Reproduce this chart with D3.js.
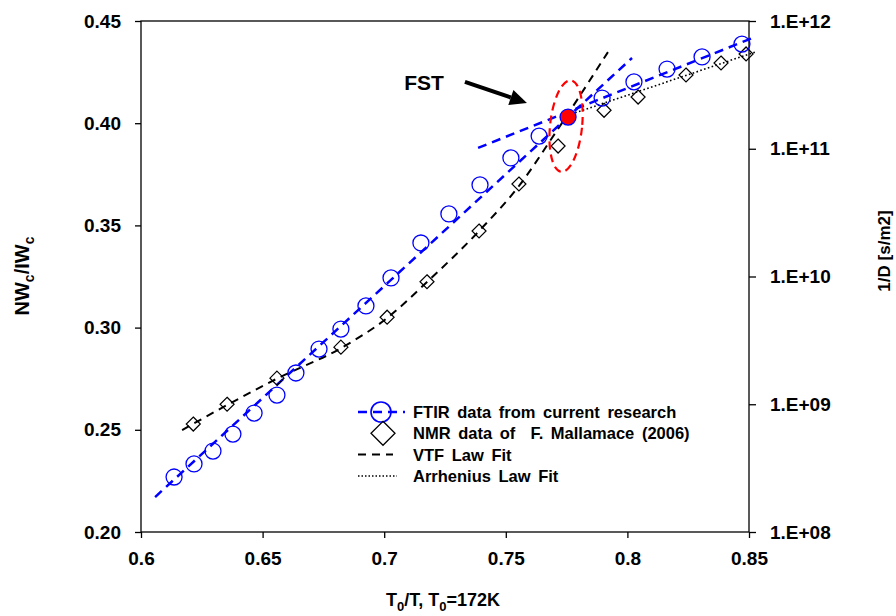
<!DOCTYPE html>
<html>
<head>
<meta charset="utf-8">
<script src="https://cdn.jsdelivr.net/npm/d3@7"></script>
<style>
  body { margin: 0; background: #fff; }
  text { font-family: "Liberation Sans", Arial, sans-serif; font-weight: bold; fill: #000; }
</style>
</head>
<body>
<div id="plot"></div>
<script>
// FTIR data (left axis, NWc/IWc)
const ftirX = [0.6136, 0.6218, 0.6296, 0.6378, 0.6465, 0.6559, 0.6637, 0.6732, 0.6822, 0.6925, 0.7028,
  0.7151, 0.7266, 0.7394, 0.7521, 0.7637, 0.7756, 0.7896, 0.8027, 0.8163, 0.8307, 0.8471];
const ftirY = [0.2269, 0.2333, 0.2396, 0.2479, 0.2582, 0.2670, 0.2778, 0.2895, 0.2993, 0.3106, 0.3243,
  0.3414, 0.3556, 0.3698, 0.3830, 0.3937, 0.4030, 0.4123, 0.4202, 0.4265, 0.4324, 0.4387];
const fstIndex = 16; // point drawn filled red

// NMR data of F. Mallamace (right axis, 1/D)
const nmrX = [0.6215, 0.6354, 0.6559, 0.6822, 0.7012, 0.7176, 0.7390, 0.7554, 0.7715, 0.7904, 0.8044,
  0.8241, 0.8385, 0.8488];
const nmrInvD = [7.0e8, 1.0e9, 1.6e9, 2.8e9, 4.8e9, 9.1e9, 2.27e10, 5.3e10, 1.05e11, 2.0e11, 2.54e11,
  3.78e11, 4.69e11, 5.52e11];

// fit lines
const ftirFitLowX = [0.6058, 0.8019];
const ftirFitLowY = [0.2171, 0.4319];
const ftirFitHighX = [0.7386, 0.8525];
const ftirFitHighY = [0.3879, 0.4422];
const vtfX = [0.6169, 0.6354, 0.6563, 0.6822, 0.7012, 0.7176, 0.7390, 0.7554, 0.7706, 0.7920];
const vtfInvD = [6.28e8, 9.86e8, 1.60e9, 2.75e9, 4.73e9, 9.06e9, 2.27e10, 5.11e10, 1.35e11, 5.71e11];
const arrX = [0.7723, 0.8525];
const arrInvD = [1.742e11, 5.71e11];

// ticks
const xTicks = [0.6, 0.65, 0.7, 0.75, 0.8, 0.85];
const yLeftTicks = [0.2, 0.25, 0.3, 0.35, 0.4, 0.45];
const yRightTicks = [1e8, 1e9, 1e10, 1e11, 1e12];

const legendLabels = ["FTIR data from current research", "NMR data of  F. Mallamace (2006)", "VTF Law Fit", "Arrhenius Law Fit"];

const width = 896, height = 616;
const plotLeft = 141, plotRight = 749, plotTop = 21, plotBottom = 532;

const svg = d3.select("#plot").append("svg")
  .attr("width", width)
  .attr("height", height);

const x = d3.scaleLinear().domain([0.6, 0.85]).range([plotLeft, plotRight]);
const yL = d3.scaleLinear().domain([0.2, 0.45]).range([plotBottom, plotTop]);
const yR = d3.scaleLog().domain([1e8, 1e12]).range([plotBottom, plotTop]);

// frame
svg.append("rect")
  .attr("x", plotLeft).attr("y", plotTop)
  .attr("width", plotRight - plotLeft).attr("height", plotBottom - plotTop)
  .attr("fill", "none").attr("stroke", "#000").attr("stroke-width", 1.3);

// axes
const gx = svg.append("g")
  .attr("transform", `translate(0,${plotBottom})`)
  .call(d3.axisBottom(x).tickValues(xTicks).tickSize(6).tickPadding(14)
    .tickFormat(d => String(+d.toFixed(2))));
const gl = svg.append("g")
  .attr("transform", `translate(${plotLeft},0)`)
  .call(d3.axisLeft(yL).tickValues(yLeftTicks).tickSize(6).tickPadding(14)
    .tickFormat(d3.format(".2f")));
const gr = svg.append("g")
  .attr("transform", `translate(${plotRight},0)`)
  .call(d3.axisRight(yR).tickValues(yRightTicks).tickSize(7).tickPadding(14)
    .tickFormat(d => "1.E+" + String(Math.round(Math.log10(d))).padStart(2, "0")));

[gx, gl, gr].forEach(g => {
  g.select(".domain").remove();
  g.selectAll(".tick line").attr("stroke", "#000").attr("stroke-width", 1.3);
  g.selectAll(".tick text")
    .style("font-family", "'Liberation Sans', Arial, sans-serif")
    .style("font-weight", "bold")
    .style("font-size", "19px")
    .attr("fill", "#000");
});

// axis titles
svg.append("text")
  .attr("transform", "translate(29,276) rotate(-90)")
  .attr("text-anchor", "middle")
  .style("font-size", "20px")
  .html('NW<tspan dy="5" font-size="14px">c</tspan><tspan dy="-5">/IW</tspan><tspan dy="5" font-size="14px">c</tspan>');

svg.append("text")
  .attr("x", 443).attr("y", 606)
  .attr("text-anchor", "middle")
  .style("font-size", "18px")
  .html('T<tspan dy="5" font-size="13px">0</tspan><tspan dy="-5">/T, T</tspan><tspan dy="5" font-size="13px">0</tspan><tspan dy="-5">=172K</tspan>');

svg.append("text")
  .attr("transform", "translate(890,251) rotate(-90)")
  .attr("text-anchor", "middle")
  .style("font-size", "17px")
  .text("1/D [s/m2]");

// lines
const lineL = d3.line().x(d => x(d[0])).y(d => yL(d[1]));

svg.append("path")
  .datum(d3.zip(vtfX, vtfInvD))
  .attr("d", d3.line().x(d => x(d[0])).y(d => yR(d[1])).curve(d3.curveMonotoneX))
  .attr("fill", "none").attr("stroke", "#000").attr("stroke-width", 2)
  .attr("stroke-dasharray", "8,6");

svg.append("path")
  .datum(d3.zip(arrX, arrInvD))
  .attr("d", d3.line().x(d => x(d[0])).y(d => yR(d[1])))
  .attr("fill", "none").attr("stroke", "#000").attr("stroke-width", 1.6)
  .attr("stroke-dasharray", "1.6,2.4");

[[ftirFitLowX, ftirFitLowY], [ftirFitHighX, ftirFitHighY]].forEach(([xs, ys]) => {
  svg.append("path")
    .datum(d3.zip(xs, ys))
    .attr("d", lineL)
    .attr("fill", "none").attr("stroke", "#0000ff").attr("stroke-width", 2.5)
    .attr("stroke-dasharray", "9,6");
});

// markers
const diamond = (cx, cy, r) => `M${cx},${cy - r}L${cx + r},${cy}L${cx},${cy + r}L${cx - r},${cy}Z`;

svg.selectAll(".nmr")
  .data(d3.zip(nmrX, nmrInvD))
  .enter().append("path")
  .attr("class", "nmr")
  .attr("d", d => diamond(x(d[0]), yR(d[1]), 7))
  .attr("fill", "none").attr("stroke", "#000").attr("stroke-width", 1.2);

svg.selectAll(".ftir")
  .data(d3.zip(ftirX, ftirY))
  .enter().append("circle")
  .attr("class", "ftir")
  .attr("cx", d => x(d[0]))
  .attr("cy", d => yL(d[1]))
  .attr("r", 8)
  .attr("fill", (d, i) => i === fstIndex ? "#ff0000" : "none")
  .attr("stroke", "#0000ff").attr("stroke-width", 1.3);

// FST annotation
const fx = ftirX[fstIndex], fy = ftirY[fstIndex];
svg.append("ellipse")
  .attr("transform", `translate(${x(fx) - 2},${yL(fy) + 9}) rotate(6)`)
  .attr("rx", 16).attr("ry", 46)
  .attr("fill", "none").attr("stroke", "#ff0000").attr("stroke-width", 2.2)
  .attr("stroke-dasharray", "8,5");

svg.append("text")
  .attr("x", x(0.7164)).attr("y", yL(0.4163))
  .attr("text-anchor", "middle")
  .style("font-size", "21px")
  .text("FST");

const tail = [x(0.7332), yL(0.4202)], tip = [x(0.7587), yL(0.4099)];
const dxA = tip[0] - tail[0], dyA = tip[1] - tail[1], len = Math.hypot(dxA, dyA);
const ux = dxA / len, uy = dyA / len;
const base = [tip[0] - ux * 17, tip[1] - uy * 17];
svg.append("line")
  .attr("x1", tail[0]).attr("y1", tail[1])
  .attr("x2", base[0]).attr("y2", base[1])
  .attr("stroke", "#000").attr("stroke-width", 4);
svg.append("path")
  .attr("d", `M${tip[0]},${tip[1]}L${base[0] - uy * 8},${base[1] + ux * 8}L${base[0] + uy * 8},${base[1] - ux * 8}Z`)
  .attr("fill", "#000");

// legend
const lg = svg.append("g").attr("transform", "translate(358,412)");
const rowH = 21.3;
legendLabels.forEach((label, i) => {
  const g = lg.append("g").attr("transform", `translate(0,${i * rowH})`);
  if (i === 0) {
    g.append("line").attr("x1", 0).attr("x2", 47).attr("y1", 0).attr("y2", 0)
      .attr("stroke", "#0000ff").attr("stroke-width", 2.5).attr("stroke-dasharray", "9,6");
    g.append("circle").attr("cx", 23).attr("cy", 0).attr("r", 10)
      .attr("fill", "none").attr("stroke", "#0000ff").attr("stroke-width", 1.6);
  } else if (i === 1) {
    g.append("path").attr("d", diamond(25, 0, 12))
      .attr("fill", "none").attr("stroke", "#000").attr("stroke-width", 1.3);
  } else if (i === 2) {
    g.append("line").attr("x1", 0).attr("x2", 35).attr("y1", 0).attr("y2", 0)
      .attr("stroke", "#000").attr("stroke-width", 2).attr("stroke-dasharray", "8,6");
  } else {
    g.append("line").attr("x1", 0).attr("x2", 39).attr("y1", 0).attr("y2", 0)
      .attr("stroke", "#000").attr("stroke-width", 1.5).attr("stroke-dasharray", "1.5,2");
  }
  g.append("text").attr("x", 55).attr("y", 6)
    .style("font-size", "16.5px")
    .style("word-spacing", "3px")
    .attr("xml:space", "preserve")
    .text(label);
});
</script>
</body>
</html>
